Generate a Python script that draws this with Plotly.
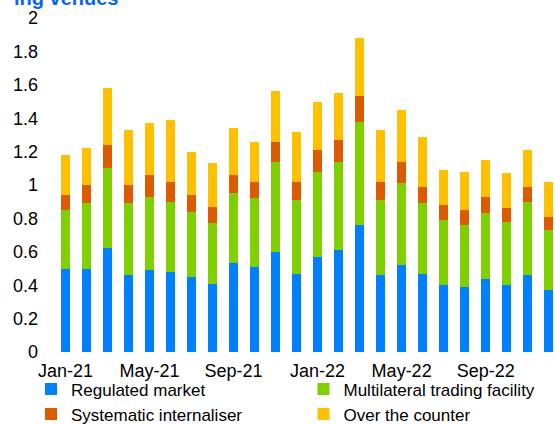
import plotly.graph_objects as go

months = ["Jan-21", "Feb-21", "Mar-21", "Apr-21", "May-21", "Jun-21", "Jul-21", "Aug-21",
          "Sep-21", "Oct-21", "Nov-21", "Dec-21", "Jan-22", "Feb-22", "Mar-22", "Apr-22",
          "May-22", "Jun-22", "Jul-22", "Aug-22", "Sep-22", "Oct-22", "Nov-22", "Dec-22"]

regulated = [0.50, 0.50, 0.62, 0.46, 0.49, 0.48, 0.45, 0.41, 0.53, 0.51, 0.60, 0.47,
             0.57, 0.61, 0.76, 0.46, 0.52, 0.47, 0.40, 0.39, 0.44, 0.40, 0.46, 0.37]
mtf = [0.35, 0.39, 0.48, 0.43, 0.44, 0.42, 0.39, 0.36, 0.42, 0.41, 0.54, 0.44,
       0.51, 0.53, 0.62, 0.45, 0.49, 0.42, 0.39, 0.37, 0.39, 0.38, 0.44, 0.36]
si = [0.09, 0.11, 0.14, 0.11, 0.13, 0.12, 0.10, 0.10, 0.11, 0.10, 0.12, 0.11,
      0.13, 0.13, 0.15, 0.11, 0.13, 0.10, 0.09, 0.09, 0.10, 0.08, 0.09, 0.08]
otc = [0.24, 0.22, 0.34, 0.33, 0.31, 0.37, 0.26, 0.26, 0.28, 0.24, 0.30, 0.30,
       0.29, 0.28, 0.35, 0.31, 0.31, 0.30, 0.21, 0.23, 0.22, 0.21, 0.22, 0.21]

series_names = ["Regulated market", "Multilateral trading facility",
                "Systematic internaliser", "Over the counter"]
series_values = [regulated, mtf, si, otc]
colors = ["#0080FF", "#80D000", "#DD5B00", "#FFC000"]
legend_ids = ["legend", "legend2", "legend", "legend2"]

tick_labels = ["Jan-21", "May-21", "Sep-21", "Jan-22", "May-22", "Sep-22"]
tick_pos = [0, 4, 8, 12, 16, 20]

x = list(range(len(months)))
FONT = "Liberation Sans, Arial, sans-serif"

fig = go.Figure()
for name, vals, col, lg in zip(series_names, series_values, colors, legend_ids):
    fig.add_trace(go.Bar(x=x, y=vals, name=name, legend=lg,
                         marker=dict(color=col, line=dict(width=0)),
                         customdata=months,
                         hovertemplate="%{customdata}: %{y}<extra>" + name + "</extra>"))

leg_common = dict(orientation="v", yanchor="top", y=-0.058, xanchor="left",
                  font=dict(size=17), itemwidth=30, traceorder="normal",
                  bgcolor="rgba(0,0,0,0)", borderwidth=0)

fig.update_layout(
    barmode="stack",
    bargap=0.57,
    width=555, height=425,
    margin=dict(l=55, r=0, t=18, b=73, autoexpand=False),
    paper_bgcolor="white", plot_bgcolor="white",
    font=dict(family=FONT, size=18, color="black"),
    showlegend=True,
    legend=dict(x=-0.048, **leg_common),
    legend2=dict(x=0.497, **leg_common),
    xaxis=dict(range=[-0.5, 23.3], tickmode="array", tickvals=tick_pos, ticktext=tick_labels,
               showgrid=False, zeroline=False, showline=False, ticks="", ticklabelstandoff=6),
    yaxis=dict(range=[0, 2], dtick=0.2, tick0=0, showgrid=False, zeroline=False,
               showline=False, ticks="", ticklabelstandoff=16),
    annotations=[dict(text="<b>ing venues</b>", xref="paper", yref="paper",
                      x=-0.086, y=1.022, xanchor="left", yanchor="bottom", showarrow=False,
                      font=dict(family=FONT, size=20, color="#0A64F0"))],
)

fig.write_html("out.html", config={"displayModeBar": False},
               post_script="document.body.style.margin='0';")
